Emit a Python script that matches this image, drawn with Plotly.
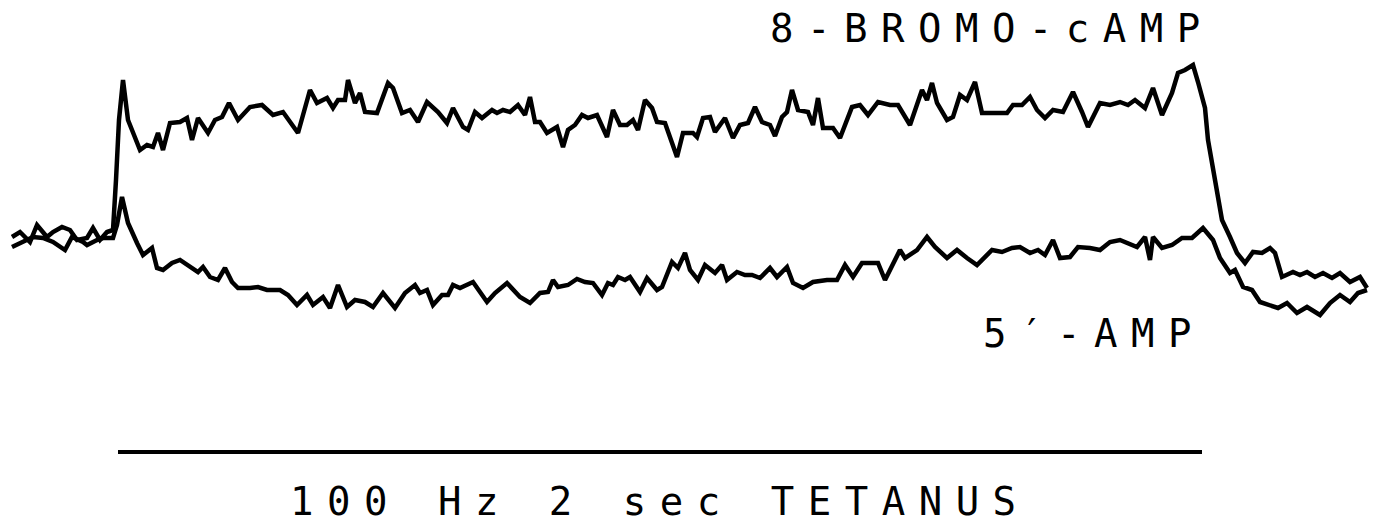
import plotly.graph_objects as go

# Trace readings (horizontal position, vertical position in chart units; y grows downward)
bromo_x = [12, 20, 30, 37, 47, 53, 62, 70, 77, 87, 93, 100, 107, 113, 116, 119, 123, 128, 134, 140,
           147, 153, 158, 163, 170, 180, 187, 192, 198, 208, 215, 222, 229, 238, 250, 262, 273, 283, 298, 310,
           317, 327, 333, 338, 345, 348, 355, 360, 365, 377, 388, 393, 402, 410, 418, 427, 438, 447, 453, 463,
           468, 475, 482, 492, 497, 503, 510, 518, 525, 530, 535, 540, 547, 557, 563, 568, 575, 582, 588, 597,
           607, 613, 620, 627, 633, 638, 645, 652, 657, 665, 677, 683, 693, 697, 703, 710, 715, 725, 733, 740,
           748, 755, 762, 770, 775, 782, 787, 792, 798, 808, 813, 818, 823, 833, 840, 852, 860, 868, 878, 890,
           898, 910, 922, 927, 932, 937, 947, 953, 960, 967, 975, 982, 997, 1007, 1013, 1022, 1030, 1037, 1045, 1053,
           1063, 1073, 1082, 1088, 1100, 1110, 1120, 1128, 1135, 1145, 1153, 1162, 1172, 1178, 1185, 1193, 1198, 1205, 1208, 1213,
           1218, 1222, 1230, 1237, 1245, 1253, 1262, 1270, 1275, 1282, 1293, 1300, 1307, 1315, 1323, 1332, 1340, 1350, 1360, 1367]
bromo_y = [237, 232, 242, 225, 237, 232, 227, 230, 240, 238, 228, 240, 232, 230, 180, 120, 80, 120, 135, 150,
           145, 147, 133, 150, 123, 122, 118, 140, 118, 133, 120, 117, 103, 120, 107, 105, 115, 112, 133, 90,
           103, 98, 108, 100, 100, 80, 103, 93, 112, 113, 83, 88, 113, 110, 122, 102, 112, 123, 108, 127,
           130, 112, 118, 110, 113, 110, 112, 105, 115, 97, 122, 122, 133, 127, 147, 130, 125, 115, 118, 115,
           137, 110, 125, 125, 120, 130, 100, 108, 122, 123, 157, 133, 133, 137, 118, 117, 132, 118, 138, 125,
           123, 107, 122, 125, 136, 117, 112, 90, 110, 112, 125, 98, 128, 128, 138, 107, 105, 115, 102, 105,
           105, 125, 90, 100, 83, 103, 120, 117, 95, 100, 82, 113, 113, 113, 105, 105, 97, 110, 118, 110,
           112, 92, 112, 127, 103, 105, 102, 105, 100, 108, 88, 115, 93, 73, 70, 65, 82, 108, 140, 167,
           193, 220, 237, 253, 263, 252, 253, 248, 253, 277, 272, 275, 272, 277, 273, 278, 273, 282, 277, 288]

amp_x = [12, 23, 33, 43, 53, 65, 72, 83, 87, 97, 103, 113, 117, 122, 128, 137, 143, 152, 157, 163,
         172, 180, 190, 198, 203, 210, 218, 225, 232, 238, 250, 258, 267, 280, 288, 297, 307, 313, 323, 330,
         338, 347, 355, 365, 373, 383, 395, 405, 415, 420, 427, 433, 442, 448, 453, 460, 473, 487, 495, 507,
         520, 530, 540, 548, 553, 558, 568, 577, 585, 593, 602, 608, 613, 618, 625, 630, 640, 647, 657, 662,
         672, 678, 685, 690, 698, 705, 715, 722, 727, 737, 745, 752, 760, 770, 777, 787, 793, 803, 813, 827,
         837, 845, 853, 862, 872, 878, 885, 890, 900, 905, 917, 927, 935, 947, 957, 967, 977, 992, 1002, 1012,
         1020, 1030, 1038, 1045, 1053, 1060, 1070, 1078, 1090, 1100, 1110, 1120, 1137, 1145, 1150, 1153, 1162, 1172, 1182, 1192,
         1203, 1213, 1220, 1230, 1235, 1243, 1252, 1260, 1270, 1278, 1287, 1297, 1307, 1320, 1330, 1340, 1350, 1358, 1367]
amp_y = [247, 242, 237, 238, 242, 250, 237, 242, 245, 240, 238, 238, 225, 197, 223, 243, 255, 248, 268, 270,
         263, 260, 267, 272, 267, 277, 280, 268, 282, 288, 288, 287, 290, 290, 295, 305, 295, 305, 297, 308,
         285, 307, 300, 302, 307, 293, 308, 293, 285, 293, 290, 305, 295, 295, 285, 288, 282, 302, 293, 283,
         297, 303, 293, 292, 280, 287, 285, 279, 282, 283, 295, 283, 285, 277, 280, 277, 292, 278, 290, 287,
         262, 268, 253, 270, 280, 265, 273, 265, 280, 272, 275, 275, 278, 268, 277, 267, 283, 288, 282, 280,
         280, 265, 277, 263, 263, 263, 280, 270, 250, 258, 250, 237, 247, 258, 250, 258, 265, 250, 252, 248,
         247, 253, 250, 255, 240, 258, 257, 247, 248, 250, 242, 240, 247, 237, 260, 237, 248, 245, 238, 238,
         228, 240, 258, 273, 270, 287, 290, 302, 305, 308, 303, 313, 307, 315, 303, 295, 302, 293, 290]

# Stimulus bar (start, end) and its level
tetanus_x = [118, 1202]
tetanus_y = [452, 452]

labels = ["8-BROMO-cAMP", "5′-AMP", "100 Hz 2 sec TETANUS"]

fig = go.Figure()
fig.add_trace(go.Scatter(x=bromo_x, y=bromo_y, mode="lines", name=labels[0],
                         line=dict(color="black", width=4.5), showlegend=False))
fig.add_trace(go.Scatter(x=amp_x, y=amp_y, mode="lines", name=labels[1],
                         line=dict(color="black", width=4.5), showlegend=False))
fig.add_trace(go.Scatter(x=tetanus_x, y=tetanus_y, mode="lines", name="tetanus",
                         line=dict(color="black", width=4), showlegend=False))

font = dict(family="DejaVu Sans Mono", size=39, color="black")
sp = "letter-spacing:13.5px"
fig.add_annotation(x=768, y=28, text=f'<span style="{sp}">{labels[0]}</span>', showarrow=False,
                   xanchor="left", yanchor="middle", font=font)
fig.add_annotation(x=981, y=333, text=f'<span style="{sp}">{labels[1]}</span>', showarrow=False,
                   xanchor="left", yanchor="middle", font=font)
fig.add_annotation(x=288, y=501, text=f'<span style="{sp}">{labels[2]}</span>', showarrow=False,
                   xanchor="left", yanchor="middle", font=font)

fig.update_layout(
    width=1379, height=529,
    margin=dict(l=0, r=0, t=0, b=0),
    paper_bgcolor="white", plot_bgcolor="white",
    xaxis=dict(range=[0, 1379], visible=False, fixedrange=True),
    yaxis=dict(range=[529, 0], visible=False, fixedrange=True),
)
fig.write_html("out.html", config={"displayModeBar": False},
               post_script="document.body.style.margin='0';document.body.style.overflow='hidden';")
